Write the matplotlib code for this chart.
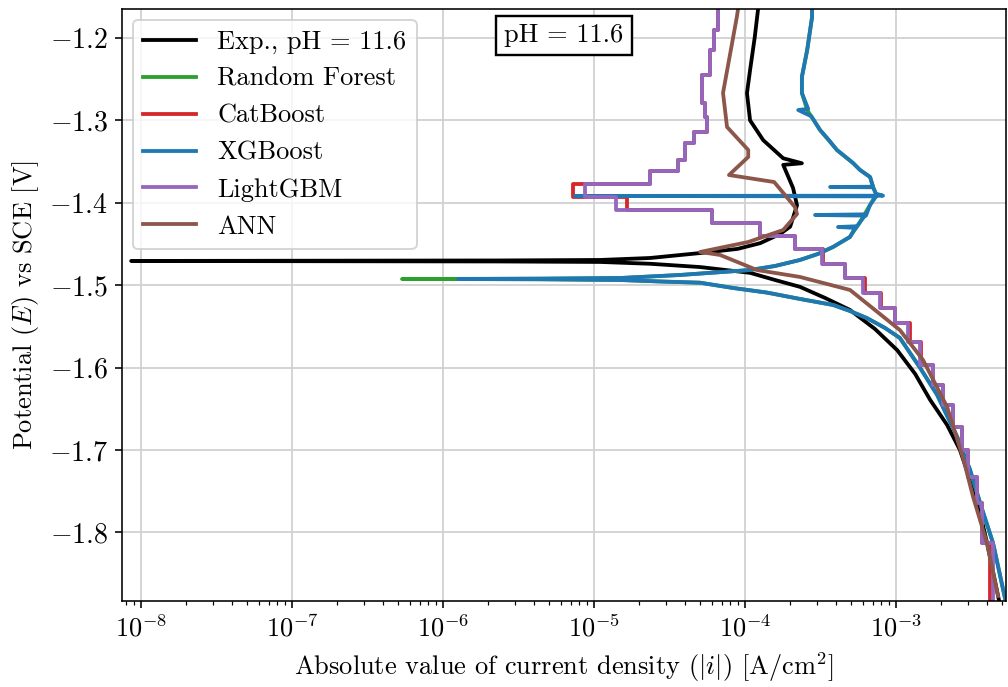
import matplotlib
matplotlib.use("Agg")
import matplotlib.pyplot as plt

# --- data (current density in A/cm^2, potential in V vs SCE) ---

# experimental curve, cathodic end -> E_corr -> anodic end
exp_i = [4.80e-3, 4.01e-3, 3.44e-3, 2.65e-3, 2.18e-3, 1.68e-3, 1.34e-3, 1.02e-3,
         7.26e-4, 4.95e-4, 3.39e-4, 2.31e-4, 1.58e-4, 1.08e-4, 5.04e-5, 2.35e-5,
         1.10e-5, 2.38e-6, 8.6e-9, 2.38e-6, 1.10e-5, 2.35e-5, 5.04e-5, 8.9e-5,
         1.26e-4, 1.70e-4, 1.99e-4, 2.21e-4, 2.08e-4, 1.79e-4, 2.38e-4, 1.79e-4,
         1.32e-4, 1.08e-4, 1.03e-4, 1.08e-4, 1.16e-4, 1.22e-4]
exp_E = [-1.882, -1.813, -1.761, -1.700, -1.6697, -1.639, -1.6078, -1.579,
         -1.5532, -1.530, -1.5155, -1.502, -1.4937, -1.485, -1.478, -1.474,
         -1.4718, -1.4712, -1.4706, -1.4700, -1.4694, -1.4670, -1.461, -1.4560,
         -1.449, -1.4380, -1.429, -1.403, -1.382, -1.354, -1.352, -1.346,
         -1.324, -1.300, -1.267, -1.239, -1.199, -1.165]

# random forest: follows XGBoost, tail reaches further left at E_corr
rf_i = [5.27e-3, 4.39e-3, 3.60e-3, 3.09e-3, 2.54e-3, 1.87e-3, 1.44e-3, 1.06e-3,
        8.45e-4, 6.43e-4, 4.95e-4, 3.83e-4, 2.31e-4, 1.40e-4, 8.34e-5, 5.04e-5,
        2.74e-5, 1.49e-5, 4.39e-6, 5.35e-7, 4.39e-6, 1.49e-5, 3.72e-5, 1.08e-4,
        1.58e-4, 2.31e-4, 3.04e-4, 3.83e-4, 4.95e-4, 5.78e-4, 6.73e-4, 7.38e-4,
        7.05e-4, 6.73e-4, 5.78e-4, 5.19e-4, 4.06e-4, 3.14e-4, 2.58e-4, 2.38e-4,
        2.38e-4, 2.58e-4, 2.78e-4, 2.78e-4]
rf_E = [-1.880, -1.813, -1.764, -1.724, -1.684, -1.633, -1.600, -1.564,
        -1.5519, -1.540, -1.5313, -1.524, -1.5167, -1.509, -1.5034, -1.497,
        -1.4955, -1.4937, -1.4928, -1.4925, -1.4921, -1.4913, -1.4876, -1.4816,
        -1.4767, -1.4694, -1.4621, -1.4536, -1.4415, -1.4233, -1.4027, -1.390,
        -1.381, -1.3687, -1.3602, -1.3517, -1.3359, -1.3117, -1.2874, -1.2667,
        -1.2473, -1.2146, -1.1745, -1.165]

xgb_i = [5.27e-3, 4.39e-3, 3.60e-3, 3.09e-3, 2.54e-3, 1.87e-3, 1.44e-3, 1.06e-3,
         8.45e-4, 6.43e-4, 4.95e-4, 3.83e-4, 2.31e-4, 1.40e-4, 8.34e-5, 5.04e-5,
         2.74e-5, 1.49e-5, 4.39e-6, 1.26e-6, 4.39e-6, 1.49e-5, 3.72e-5, 1.08e-4,
         1.58e-4, 2.31e-4, 3.04e-4, 3.83e-4, 4.95e-4, 5.43e-4, 4.13e-4, 5.43e-4,
         5.78e-4, 6.32e-4, 2.91e-4, 6.32e-4, 6.73e-4, 7.38e-4, 7.48e-6, 8.20e-4,
         7.38e-4, 7.05e-4, 3.66e-4, 7.05e-4, 6.73e-4, 5.78e-4, 5.19e-4, 4.06e-4,
         3.60e-4, 3.14e-4, 2.75e-4, 2.25e-4, 2.62e-4, 2.38e-4, 2.38e-4, 2.58e-4,
         2.78e-4, 2.78e-4]
xgb_E = [-1.880, -1.813, -1.764, -1.724, -1.684, -1.633, -1.600, -1.564,
         -1.5519, -1.540, -1.5313, -1.524, -1.5167, -1.509, -1.5034, -1.497,
         -1.4955, -1.4937, -1.4928, -1.4925, -1.4921, -1.4913, -1.4876, -1.4816,
         -1.4767, -1.4694, -1.4621, -1.4536, -1.4415, -1.4285, -1.4294, -1.4305,
         -1.4233, -1.4140, -1.4148, -1.4156, -1.4027, -1.3922, -1.3917, -1.3914,
         -1.3890, -1.3812, -1.3808, -1.3805, -1.3687, -1.3602, -1.3517, -1.3359,
         -1.3240, -1.3117, -1.2950, -1.2874, -1.2860, -1.2667, -1.2473, -1.2146,
         -1.1745, -1.165]

# tree models give piecewise constant predictions: lower edge of each level + top
lgbm_E = [-1.882, -1.8129, -1.7643, -1.7328, -1.7000, -1.6721, -1.6454, -1.6211,
          -1.5968, -1.5689, -1.5459, -1.5277, -1.5095, -1.4913, -1.4743, -1.4561,
          -1.4403, -1.4245, -1.4087, -1.3930, -1.3772, -1.3614, -1.3481, -1.3274,
          -1.3141, -1.2959, -1.2789, -1.2449, -1.2146, -1.1903, -1.1648]
lgbm_i = [4.39e-3, 3.71e-3, 3.44e-3, 3.00e-3, 2.74e-3, 2.38e-3, 2.05e-3, 1.76e-3,
          1.44e-3, 1.20e-3, 9.85e-4, 7.83e-4, 6.05e-4, 4.59e-4, 3.24e-4, 2.14e-4,
          1.26e-4, 6.05e-5, 1.40e-5, 8.72e-6, 2.35e-5, 3.60e-5, 4.00e-5, 4.59e-5,
          5.60e-5, 5.43e-5, 5.19e-5, 5.86e-5, 6.23e-5, 6.63e-5, 6.63e-5]

cat_E = lgbm_E
cat_i = [4.19e-3, 3.71e-3, 3.44e-3, 3.00e-3, 2.74e-3, 2.38e-3, 2.05e-3, 1.76e-3,
         1.47e-3, 1.24e-3, 9.85e-4, 7.95e-4, 6.25e-4, 4.59e-4, 3.30e-4, 2.14e-4,
         1.26e-4, 6.05e-5, 1.65e-5, 7.26e-6, 2.35e-5, 3.60e-5, 4.00e-5, 4.59e-5,
         5.60e-5, 5.43e-5, 5.19e-5, 5.86e-5, 6.23e-5, 6.63e-5, 6.63e-5]

ann_i = [4.74e-3, 4.00e-3, 3.24e-3, 2.78e-3, 2.18e-3, 1.51e-3, 1.06e-3, 4.96e-4,
         2.31e-4, 1.20e-4, 6.83e-5, 5.04e-5, 1.05e-4, 1.79e-4, 2.21e-4, 2.14e-4,
         1.56e-4, 7.83e-5, 1.05e-4, 1.05e-4, 7.60e-5, 7.15e-5, 8.85e-5, 8.99e-5]
ann_E = [-1.8772, -1.8129, -1.7570, -1.7097, -1.6478, -1.5908, -1.5544, -1.5058,
         -1.4900, -1.4816, -1.4633, -1.4597, -1.4476, -1.4330, -1.4136, -1.4051,
         -1.3748, -1.3663, -1.3444, -1.3359, -1.3080, -1.2667, -1.1733, -1.1648]

x_lim = (7.48e-9, 5.35e-3)
y_lim = (-1.8833, -1.1648)
ph_label = "pH = 11.6"

plt.rcParams["font.family"] = "serif"
plt.rcParams["font.serif"] = ["cmr10"]
plt.rcParams["mathtext.fontset"] = "cm"
plt.rcParams["axes.formatter.use_mathtext"] = True
plt.rcParams["font.size"] = 13.2

fig = plt.figure(figsize=(7, 687 / 144), dpi=144)
ax = fig.add_axes([122 / 1008, 1 - 601 / 687, 884 / 1008, 592 / 687])

lw = 1.9
ax.plot(exp_i, exp_E, color="black", lw=lw, label="Exp., " + ph_label)
ax.plot(rf_i, rf_E, color="tab:green", lw=lw, label="Random Forest")
ax.plot(cat_i, cat_E, color="tab:red", lw=lw, drawstyle="steps-pre", label="CatBoost")
ax.plot(xgb_i, xgb_E, color="tab:blue", lw=lw, label="XGBoost")
ax.plot(lgbm_i, lgbm_E, color="tab:purple", lw=lw, drawstyle="steps-pre", label="LightGBM")
ax.plot(ann_i, ann_E, color="tab:brown", lw=lw, label="ANN")

ax.set_xscale("log")
ax.set_xlim(*x_lim)
ax.set_ylim(*y_lim)
ax.grid(True, which="major", color="0.82", lw=0.9)
ax.set_axisbelow(True)
ax.tick_params(axis="y", labelsize=14)

ax.set_xlabel(r"Absolute value of current density ($|i|$) [A/cm$^2$]")
ax.set_ylabel(r"Potential ($E$) vs SCE [V]")
ax.legend(loc="upper left", borderaxespad=0.4)
ax.text(0.5, 0.955, ph_label, transform=ax.transAxes, ha="center", va="center",
        bbox=dict(boxstyle="square,pad=0.3", fc="white", ec="black", lw=1.2))

fig.savefig("out.png", dpi=144)
